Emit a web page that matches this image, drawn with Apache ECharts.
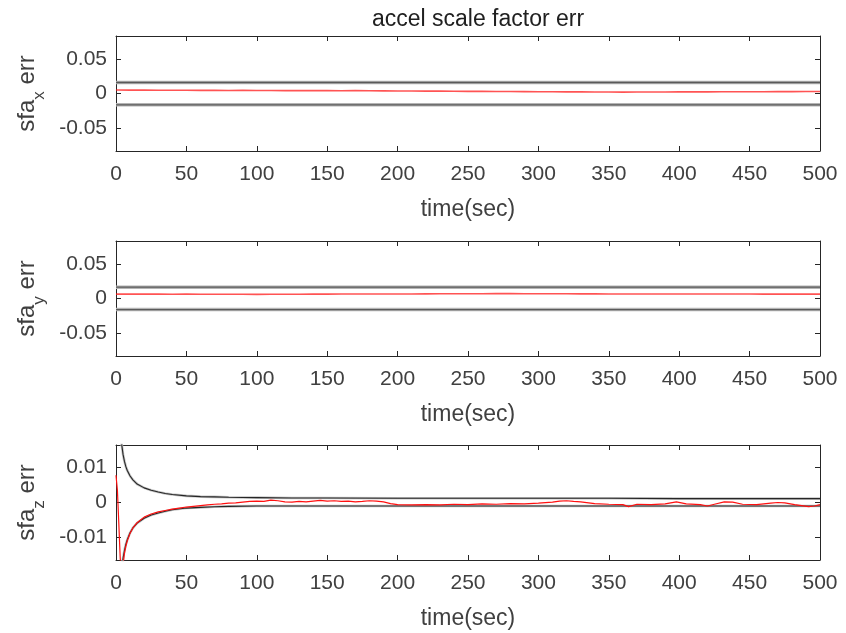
<!DOCTYPE html>
<html>
<head>
<meta charset="utf-8">
<script src="https://cdn.jsdelivr.net/npm/echarts@6/dist/echarts.min.js"></script>
<style>
  html, body { margin: 0; padding: 0; background: #fff; }
  #chart { width: 846px; height: 633px; }
</style>
</head>
<body>
<div id="chart"></div>
<script>
// Time axis ticks (seconds)
const timeTicks = [0, 50, 100, 150, 200, 250, 300, 350, 400, 450, 500];

// x / y channels: sampled every 10 s
const tXY = [0,10,20,30,40,50,60,70,80,90,100,110,120,130,140,150,160,170,180,190,200,
  210,220,230,240,250,260,270,280,290,300,310,320,330,340,350,360,370,380,390,400,
  410,420,430,440,450,460,470,480,490,500];

const sfaxErr = [0.0050,0.0048,0.0049,0.0047,0.0046,0.0047,0.0045,0.0046,0.0044,0.0045,
  0.0043,0.0044,0.0042,0.0043,0.0041,0.0042,0.0040,0.0041,0.0039,0.0038,
  0.0037,0.0036,0.0035,0.0034,0.0033,0.0031,0.0030,0.0029,0.0028,0.0027,
  0.0026,0.0025,0.0024,0.0023,0.0022,0.0021,0.0020,0.0021,0.0022,0.0022,
  0.0023,0.0024,0.0024,0.0025,0.0025,0.0026,0.0026,0.0027,0.0027,0.0028,0.0028];
const sfaxUpper = 0.0159;
const sfaxLower = -0.0163;

const sfayErr = [0.0063,0.0064,0.0063,0.0064,0.0062,0.0063,0.0062,0.0061,0.0062,0.0061,
  0.0060,0.0061,0.0062,0.0062,0.0063,0.0063,0.0064,0.0064,0.0065,0.0065,
  0.0066,0.0066,0.0067,0.0068,0.0068,0.0069,0.0069,0.0070,0.0070,0.0069,
  0.0069,0.0068,0.0068,0.0067,0.0067,0.0066,0.0066,0.0066,0.0065,0.0065,
  0.0065,0.0064,0.0064,0.0065,0.0064,0.0064,0.0063,0.0064,0.0063,0.0063,0.0063];
const sfayUpper = 0.0163;
const sfayLower = -0.0160;

// z channel estimate error
const tZ = [0,1,2,3,4,5,6,7,8,10,12,15,20,25,30,35,40,45,50,55,60,65,70,75,80,85,90,95,
  100,105,110,115,120,125,130,135,140,145,150,155,160,165,170,175,180,185,190,195,
  200,210,220,230,240,250,260,270,280,290,300,310,315,320,325,330,340,350,360,364,
  370,380,390,398,405,415,420,425,432,438,445,455,465,470,475,482,492,496,500];
const sfazErr = [0.0078,0.0035,-0.0060,-0.0160,-0.0210,-0.0180,-0.0145,-0.0125,-0.0110,
  -0.0088,-0.0073,-0.0058,-0.0042,-0.0033,-0.0027,-0.0023,-0.0019,-0.0016,-0.0013,
  -0.0011,-0.0009,-0.0007,-0.0005,-0.0004,-0.0002,-0.0001,0.0001,0.0003,
  0.0004,0.0003,0.0007,0.0005,0.0002,0.0001,0.0003,0.0002,0.0004,0.0006,0.0004,0.0005,
  0.0003,0.0004,0.0002,0.0003,0.0005,0.0004,0.0002,-0.0003,
  -0.0006,-0.0007,-0.0006,-0.0007,-0.0005,-0.0006,-0.0004,-0.0005,-0.0003,-0.0004,
  -0.0002,0.0001,0.0004,0.0005,0.0003,0.0002,-0.0003,-0.0005,-0.0006,-0.0012,
  -0.0005,-0.0006,-0.0004,0.0002,-0.0004,-0.0006,-0.0010,-0.0005,0.0002,0.0001,
  -0.0005,-0.0006,-0.0002,0.0000,-0.0001,-0.0006,-0.0012,-0.0010,-0.0006];

// z channel uncertainty envelope
const tEnv = [1,2,3,4,5,6,7,8,10,12,15,20,25,30,35,40,50,60,70,80,100,125,150,200,250,300,350,400,450,500];
const sfazUpper = [0.066,0.033,0.022,0.0168,0.0138,0.0118,0.0103,0.0092,0.0076,0.0065,
  0.0053,0.0042,0.0035,0.0030,0.0026,0.0023,0.0019,0.0017,0.0016,0.0015,
  0.0014,0.0013,0.0013,0.0012,0.0012,0.0012,0.0012,0.0011,0.0011,0.0011];
const sfazLower = [-0.070,-0.036,-0.025,-0.0195,-0.0160,-0.0138,-0.0120,-0.0107,-0.0087,-0.0073,
  -0.0059,-0.0045,-0.0036,-0.0030,-0.0025,-0.0021,-0.0016,-0.0014,-0.0012,-0.0011,
  -0.0010,-0.0010,-0.0010,-0.0010,-0.0010,-0.0010,-0.0010,-0.0010,-0.0010,-0.0010];

const yTicksXY = [-0.05, 0, 0.05];
const yTicksZ = [-0.01, 0, 0.01];

const AX = '#262626';
const TXT = '#404040';
const FONT = '"Liberation Sans", Arial, sans-serif';

const zip = (xs, ys) => xs.map((x, i) => [x, ys[i]]);
const flat = (xs, v) => xs.map(x => [x, v]);

const grids = [
  { left: 116, width: 704, top: 36, height: 115 },
  { left: 116, width: 704, top: 241, height: 115 },
  { left: 116, width: 704, top: 445, height: 115 }
];

const yRanges = [[-0.083, 0.083], [-0.083, 0.083], [-0.0165, 0.0165]];
const yTicks = [yTicksXY, yTicksXY, yTicksZ];
const subs = ['x', 'y', 'z'];

const xAxes = [], yAxes = [];
grids.forEach((g, i) => {
  xAxes.push({
    type: 'value', gridIndex: i, position: 'bottom', min: 0, max: 500, interval: 50,
    axisLine: { onZero: false, lineStyle: { color: AX, width: 1 } },
    axisTick: { inside: true, length: 5, lineStyle: { color: AX } },
    splitLine: { show: false },
    axisLabel: { color: TXT, fontFamily: FONT, fontSize: 21, margin: 13,
      customValues: timeTicks },
    name: 'time(sec)', nameLocation: 'middle', nameGap: 47,
    nameTextStyle: { color: TXT, fontFamily: FONT, fontSize: 23 }
  });
  xAxes.push({
    type: 'value', gridIndex: i, position: 'top', min: 0, max: 500, interval: 50,
    axisLine: { onZero: false, lineStyle: { color: AX, width: 1 } },
    axisTick: { inside: true, length: 5, lineStyle: { color: AX } },
    splitLine: { show: false }, axisLabel: { show: false }
  });
  yAxes.push({
    type: 'value', gridIndex: i, position: 'left', min: yRanges[i][0], max: yRanges[i][1],
    axisLine: { onZero: false, lineStyle: { color: AX, width: 1 } },
    axisTick: { inside: true, length: 5, lineStyle: { color: AX }, customValues: yTicks[i] },
    splitLine: { show: false },
    axisLabel: { color: TXT, fontFamily: FONT, fontSize: 21, margin: 9,
      customValues: yTicks[i], formatter: v => String(v) },
    name: '{m|sfa}{s|' + subs[i] + '}{m| err}', nameLocation: 'middle', nameGap: 66,
    nameTextStyle: {
      color: TXT, fontFamily: FONT,
      rich: {
        m: { fontSize: 24, color: TXT, fontFamily: FONT, padding: [0, 0, 9, 0], verticalAlign: 'bottom' },
        s: { fontSize: 17, color: TXT, fontFamily: FONT, verticalAlign: 'bottom' }
      }
    }
  });
  yAxes.push({
    type: 'value', gridIndex: i, position: 'right', min: yRanges[i][0], max: yRanges[i][1],
    axisLine: { onZero: false, lineStyle: { color: AX, width: 1 } },
    axisTick: { inside: true, length: 5, lineStyle: { color: AX }, customValues: yTicks[i] },
    splitLine: { show: false }, axisLabel: { show: false }
  });
});

function line(gi, data, color, width, z, opacity) {
  return {
    type: 'line', xAxisIndex: gi * 2, yAxisIndex: gi * 2, data,
    showSymbol: false, symbol: 'none', clip: true, animation: false, z,
    lineStyle: { color, width, opacity: opacity == null ? 1 : opacity }
  };
}

// bound lines: soft gray band with a darker core
function bound(gi, data) {
  return [line(gi, data, '#b4b4b4', 3.5, 2), line(gi, data, '#5a5a5a', 1.3, 3)];
}

const series = [
  ...bound(0, flat(tXY, sfaxUpper)),
  ...bound(0, flat(tXY, sfaxLower)),
  line(0, zip(tXY, sfaxErr), '#ff1a1a', 1.6, 4, 0.75),

  ...bound(1, flat(tXY, sfayUpper)),
  ...bound(1, flat(tXY, sfayLower)),
  line(1, zip(tXY, sfayErr), '#ff1a1a', 1.6, 4, 0.75),

  line(2, zip(tEnv, sfazUpper), '#c4c4c4', 2.6, 2),
  line(2, zip(tEnv, sfazUpper), '#262626', 1.1, 3),
  line(2, zip(tEnv, sfazLower), '#c4c4c4', 2.6, 2),
  line(2, zip(tEnv, sfazLower), '#262626', 1.1, 3),
  line(2, zip(tZ, sfazErr), '#ff1010', 1.2, 4)
];

const chart = echarts.init(document.getElementById('chart'), null, { renderer: 'canvas' });
chart.setOption({
  backgroundColor: '#ffffff',
  animation: false,
  title: {
    text: 'accel scale factor err', left: 473, top: 3, textAlign: 'center',
    textStyle: { color: '#202020', fontFamily: FONT, fontSize: 23, fontWeight: 'normal' }
  },
  grid: grids,
  xAxis: xAxes,
  yAxis: yAxes,
  series
});
</script>
</body>
</html>
